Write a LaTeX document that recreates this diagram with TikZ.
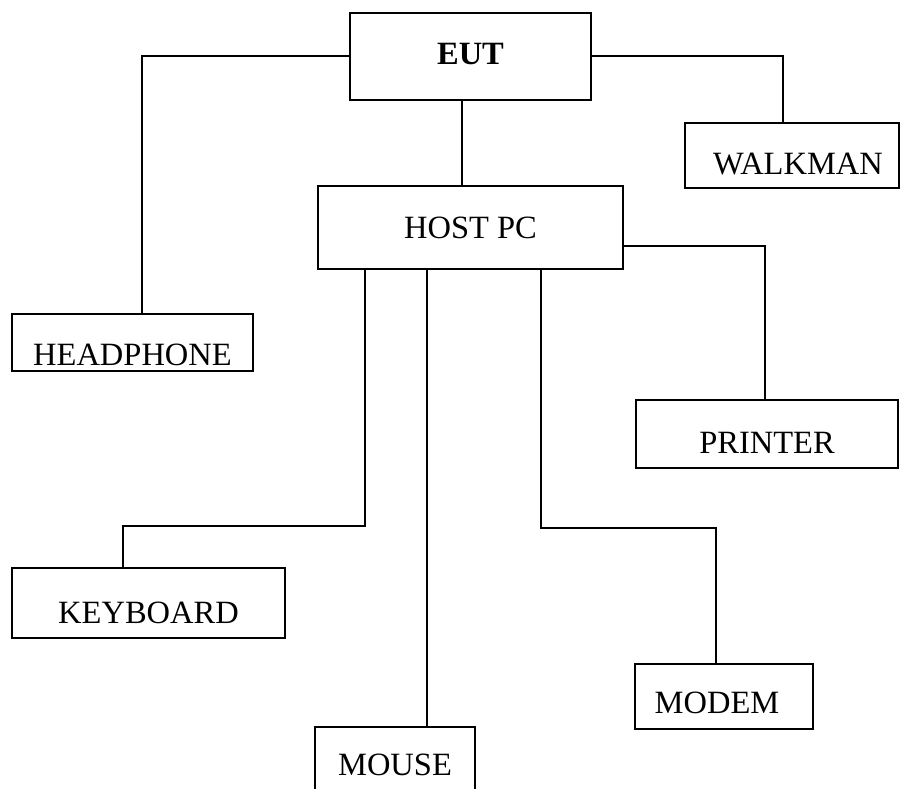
\documentclass[tikz,border=0pt]{standalone}
\usepackage{fontspec}
\setmainfont{Liberation Serif}
\begin{document}
\begin{tikzpicture}[x=1pt,y=-1pt,
  box/.style={draw, line width=2pt, inner sep=0pt, outer sep=0pt,
    font=\fontsize{32.5}{38}\selectfont, minimum width=#1},
  tlow/.style={text height=#1, text depth=0pt},
  wire/.style={line width=1.5pt}]
\clip (0,0) rectangle (900,788);
% boxes
\node[box=241pt, minimum height=87pt, tlow=16pt, font=\fontsize{32.5}{38}\selectfont\bfseries] (EUT) at (470.5,56.5) {EUT};
\node[box=305pt, minimum height=83pt, tlow=22pt] (HOST) at (470.5,227.5) {HOST PC};
\node[box=214pt, minimum height=65pt, tlow=37pt] (WALK) at (792,155.5) {WALKMAN\hspace*{-12pt}};
\node[box=241pt, minimum height=57pt, tlow=45pt] (HEAD) at (132.5,342.5) {HEADPHONE};
\node[box=262pt, minimum height=68pt, tlow=39pt] (PRINT) at (767,434) {PRINTER};
\node[box=273pt, minimum height=70pt, tlow=41pt] (KEYB) at (148.5,603) {KEYBOARD};
\node[box=160pt, minimum height=76pt, tlow=21pt] (MOUSE) at (395,765) {MOUSE};
\node[box=178pt, minimum height=65pt, tlow=34pt] (MODEM) at (724,696.5) {\hspace*{-14pt}MODEM};
% turning points
\coordinate (hpx) at (142,56);
\coordinate (wkx) at (783,56);
\coordinate (eux) at (462,0);
\coordinate (prA) at (623,246);
\coordinate (prx) at (765,246);
\coordinate (kbA) at (365,526);
\coordinate (kbB) at (123,526);
\coordinate (msx) at (427,0);
\coordinate (mdA) at (541,528);
\coordinate (mdB) at (716,528);
% connectors
\draw[wire] (EUT.west |- hpx) -- (hpx) -- (hpx |- HEAD.north);
\draw[wire] (EUT.east |- wkx) -- (wkx) -- (wkx |- WALK.north);
\draw[wire] (EUT.south -| eux) -- (HOST.north -| eux);
\draw[wire] (HOST.east |- prA) -- (prx) -- (prx |- PRINT.north);
\draw[wire] (HOST.south -| kbA) -- (kbA) -- (kbB) -- (kbB |- KEYB.north);
\draw[wire] (HOST.south -| msx) -- (MOUSE.north -| msx);
\draw[wire] (HOST.south -| mdA) -- (mdA) -- (mdB) -- (mdB |- MODEM.north);
\end{tikzpicture}
\end{document}
